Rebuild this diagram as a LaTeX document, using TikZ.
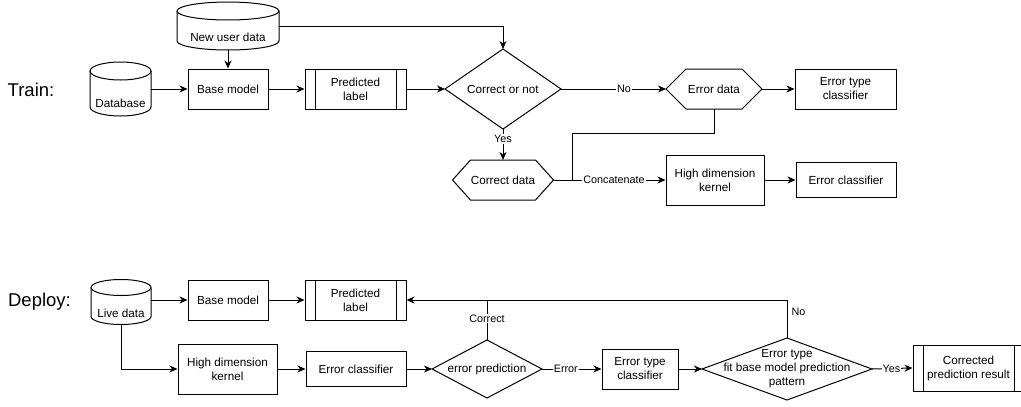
\documentclass[tikz,border=0pt]{standalone}
\usepackage{fontspec}
\setmainfont{Liberation Sans}
\usetikzlibrary{shapes.geometric,arrows.meta}
\newcommand\mycyl[3]{%
  \draw[ln] ([yshift=-#3pt]#1.north west) -- ([yshift=#3pt]#1.south west)
    arc[start angle=180,end angle=360,x radius=#2pt,y radius=#3pt]
    -- ([yshift=-#3pt]#1.north east);
  \draw[ln] ([yshift=-#3pt]#1.north) ellipse[x radius=#2pt,y radius=#3pt];}
\newcommand\myhex[2]{%
  \draw[ln] (#1.west) -- ([xshift=#2pt]#1.north west) -- ([xshift=-#2pt]#1.north east)
    -- (#1.east) -- ([xshift=-#2pt]#1.south east) -- ([xshift=#2pt]#1.south west) -- cycle;}
\newcommand\mydia[1]{%
  \draw[ln] (#1.north) -- (#1.east) -- (#1.south) -- (#1.west) -- cycle;}
\begin{document}
\begin{tikzpicture}[x=1pt,y=-1pt,
  every node/.style={font=\fontsize{11.7}{14}\selectfont, align=center, inner sep=0pt},
  ln/.style={line width=1pt},
  arr/.style={ln, -{Stealth[length=8pt,width=7pt,inset=2.5pt]}},
  box/.style={draw, line width=1pt, rectangle},
  shp/.style={outer sep=0pt},
  proc/.style={box, path picture={
     \draw[line width=1pt] ([xshift=10pt]path picture bounding box.north west) -- ([xshift=10pt]path picture bounding box.south west);
     \draw[line width=1pt] ([xshift=-10pt]path picture bounding box.north east) -- ([xshift=-10pt]path picture bounding box.south east);}},
  lbl/.style={fill=white, font=\fontsize{10.8}{13}\selectfont, inner sep=1pt},
  big/.style={font=\fontsize{18.5}{22}\selectfont}]
\useasboundingbox (0,0) rectangle (1021,407);

% ---------------- Train ----------------
\node[big] (train) at (31,90) {Train:};
\node[shp, minimum width=102pt, minimum height=48pt] (nud) at (228,26) {};
\mycyl{nud}{51}{9}
\node (nudt) at (228,37) {New user data};
\node[shp, minimum width=61pt, minimum height=54pt] (db) at (120.5,89) {};
\mycyl{db}{30.5}{9}
\node (dbt) at (120.5,103) {Database};
\node[box, minimum width=80pt, minimum height=40pt] (bm1) at (228,89) {Base model};
\node[proc, minimum width=101pt, minimum height=40pt] (pl1) at (355.5,89) {Predicted\\label};
\node[shp, minimum width=116pt, minimum height=80pt] (d1) at (503,89) {Correct or not};
\mydia{d1}
\node[shp, minimum width=96pt, minimum height=40pt] (ed) at (714,89) {Error data};
\myhex{ed}{20}
\node[box, minimum width=101pt, minimum height=40pt] (etc1) at (845.5,89) {Error type\\classifier};
\node[shp, minimum width=101pt, minimum height=40pt] (cd) at (503,180) {Correct data};
\myhex{cd}{18}
\node[box, minimum width=98pt, minimum height=50pt] (hdk1) at (715,180) {High dimension\\kernel};
\node[box, minimum width=100pt, minimum height=35pt] (ec1) at (846,180) {Error classifier};
\coordinate (j1) at (572,180);

\draw[arr] (nud.south) -- (bm1.north);
\draw[arr] (nud.east) -| (d1.north);
\draw[arr] (db.east) -- (bm1.west);
\draw[arr] (bm1) -- (pl1);
\draw[arr] (pl1) -- (d1.west);
\draw[arr] (d1.east) -- node[lbl,pos=0.6]{No} (ed.west);
\draw[arr] (ed.east) -- (etc1);
\draw[arr] (d1.south) -- node[lbl,pos=0.32]{Yes} (cd.north);
\draw[arr] (cd.east) -- node[lbl,pos=0.54]{Concatenate} (hdk1);
\draw[ln] (ed.south) -- ++(0,24) -| (j1);
\draw[arr] (hdk1) -- (ec1);

% ---------------- Deploy ----------------
\node[big] (deploy) at (39.5,302) {Deploy:};
\node[shp, minimum width=60pt, minimum height=45pt] (ld) at (121,302) {};
\mycyl{ld}{30}{8}
\node (ldt) at (121,313) {Live data};
\node[box, minimum width=80pt, minimum height=40pt] (bm2) at (228,300) {Base model};
\node[proc, minimum width=101pt, minimum height=40pt] (pl2) at (355.5,300) {Predicted\\label};
\node[box, minimum width=99pt, minimum height=50pt] (hdk2) at (227.5,369) {High dimension\\kernel};
\node[box, minimum width=100pt, minimum height=35pt] (ec2) at (356,369) {Error classifier};
\node[shp, minimum width=110pt, minimum height=58pt] (d2) at (487,369) {error prediction};
\mydia{d2}
\node[box, minimum width=76pt, minimum height=40pt] (etc2) at (640,369) {Error type\\classifier};
\node[shp, minimum width=170pt, minimum height=62pt] (d3) at (787,369) {Error type\\fit base model prediction\\pattern};
\mydia{d3}
\node[proc, minimum width=111pt, minimum height=46pt] (cpr) at (968.5,368) {Corrected\\prediction result};

\draw[arr] (ld.east |- bm2.west) -- (bm2.west);
\draw[arr] (bm2) -- (pl2);
\draw[arr] (ld.south) |- (hdk2.west);
\draw[arr] (hdk2) -- (ec2);
\draw[arr] (ec2) -- (d2.west);
\draw[arr] (d2.east) -- node[lbl,pos=0.4]{Error} (etc2);
\draw[arr] (etc2) -- (d3.west);
\draw[arr] (d3.east) -- node[lbl,pos=0.48]{Yes} (cpr.west);
\draw[arr] (d3.north) |- node[pos=0.35, right=4pt, font=\fontsize{10.8}{13}\selectfont]{No} (pl2.east);
\draw[ln] (d2.north) -- node[lbl,pos=0.54]{Correct} (d2.north |- pl2.east);
\end{tikzpicture}
\end{document}
